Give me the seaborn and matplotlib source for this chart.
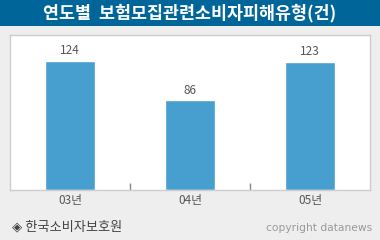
import matplotlib
matplotlib.use("Agg")
import matplotlib.pyplot as plt
import seaborn as sns
import pandas as pd

title = "연도별  보험모집관련소비자피해유형(건)"
years = ["03년", "04년", "05년"]
counts = [124, 86, 123]
source = "◈ 한국소비자보호원"
credit = "copyright datanews"

sns.set_style("white")
plt.rcParams['font.family'] = ['Noto Sans CJK KR', 'DejaVu Sans']

df = pd.DataFrame({"year": years, "count": counts})

fig = plt.figure(figsize=(3.8, 2.4), dpi=100)
fig.patch.set_facecolor("#EEEEEE")

# title bar
bar_ax = fig.add_axes([0, 1 - 26/240, 1, 26/240])
bar_ax.set_facecolor("#006699")
bar_ax.set_xticks([]); bar_ax.set_yticks([])
for s in bar_ax.spines.values():
    s.set_visible(False)
bar_ax.text(0.5, 0.5, title, color="white", fontsize=12.5, fontweight="bold",
            ha="center", va="center", transform=bar_ax.transAxes)

ax = fig.add_axes([10/380, 50/240, 360/380, 155/240])
sns.barplot(data=df, x="year", y="count", color="#469FCF", saturation=1,
            width=0.41, ax=ax)
ax.set_facecolor("white")
ax.set_xlim(-0.5, 2.5)
ax.set_ylim(0, 148.6)
ax.set_xlabel(""); ax.set_ylabel("")
ax.set_yticks([])
ax.tick_params(axis="x", which="major", length=0, labelsize=8.5,
               labelcolor="#555555", pad=3)
ax.set_xticks([0.5, 1.5], minor=True)
ax.tick_params(axis="x", which="minor", bottom=True, direction="in", length=5,
               color="#888888", width=1)
for s in ax.spines.values():
    s.set_visible(True)
    s.set_color("#CCCCCC")
    s.set_linewidth(1)

for i, v in enumerate(counts):
    ax.text(i, v + 3.5, str(v), ha="center", va="bottom", fontsize=8.5,
            color="#555555")

fig.text(12/380, 1 - 227/240, source, fontsize=9.5, color="#444444",
         ha="left", va="center")
fig.text(372/380, 1 - 228/240, credit, fontsize=7.7, color="#999999",
         ha="right", va="center", family="DejaVu Sans")

fig.savefig("out.png", dpi=100, facecolor=fig.get_facecolor())
